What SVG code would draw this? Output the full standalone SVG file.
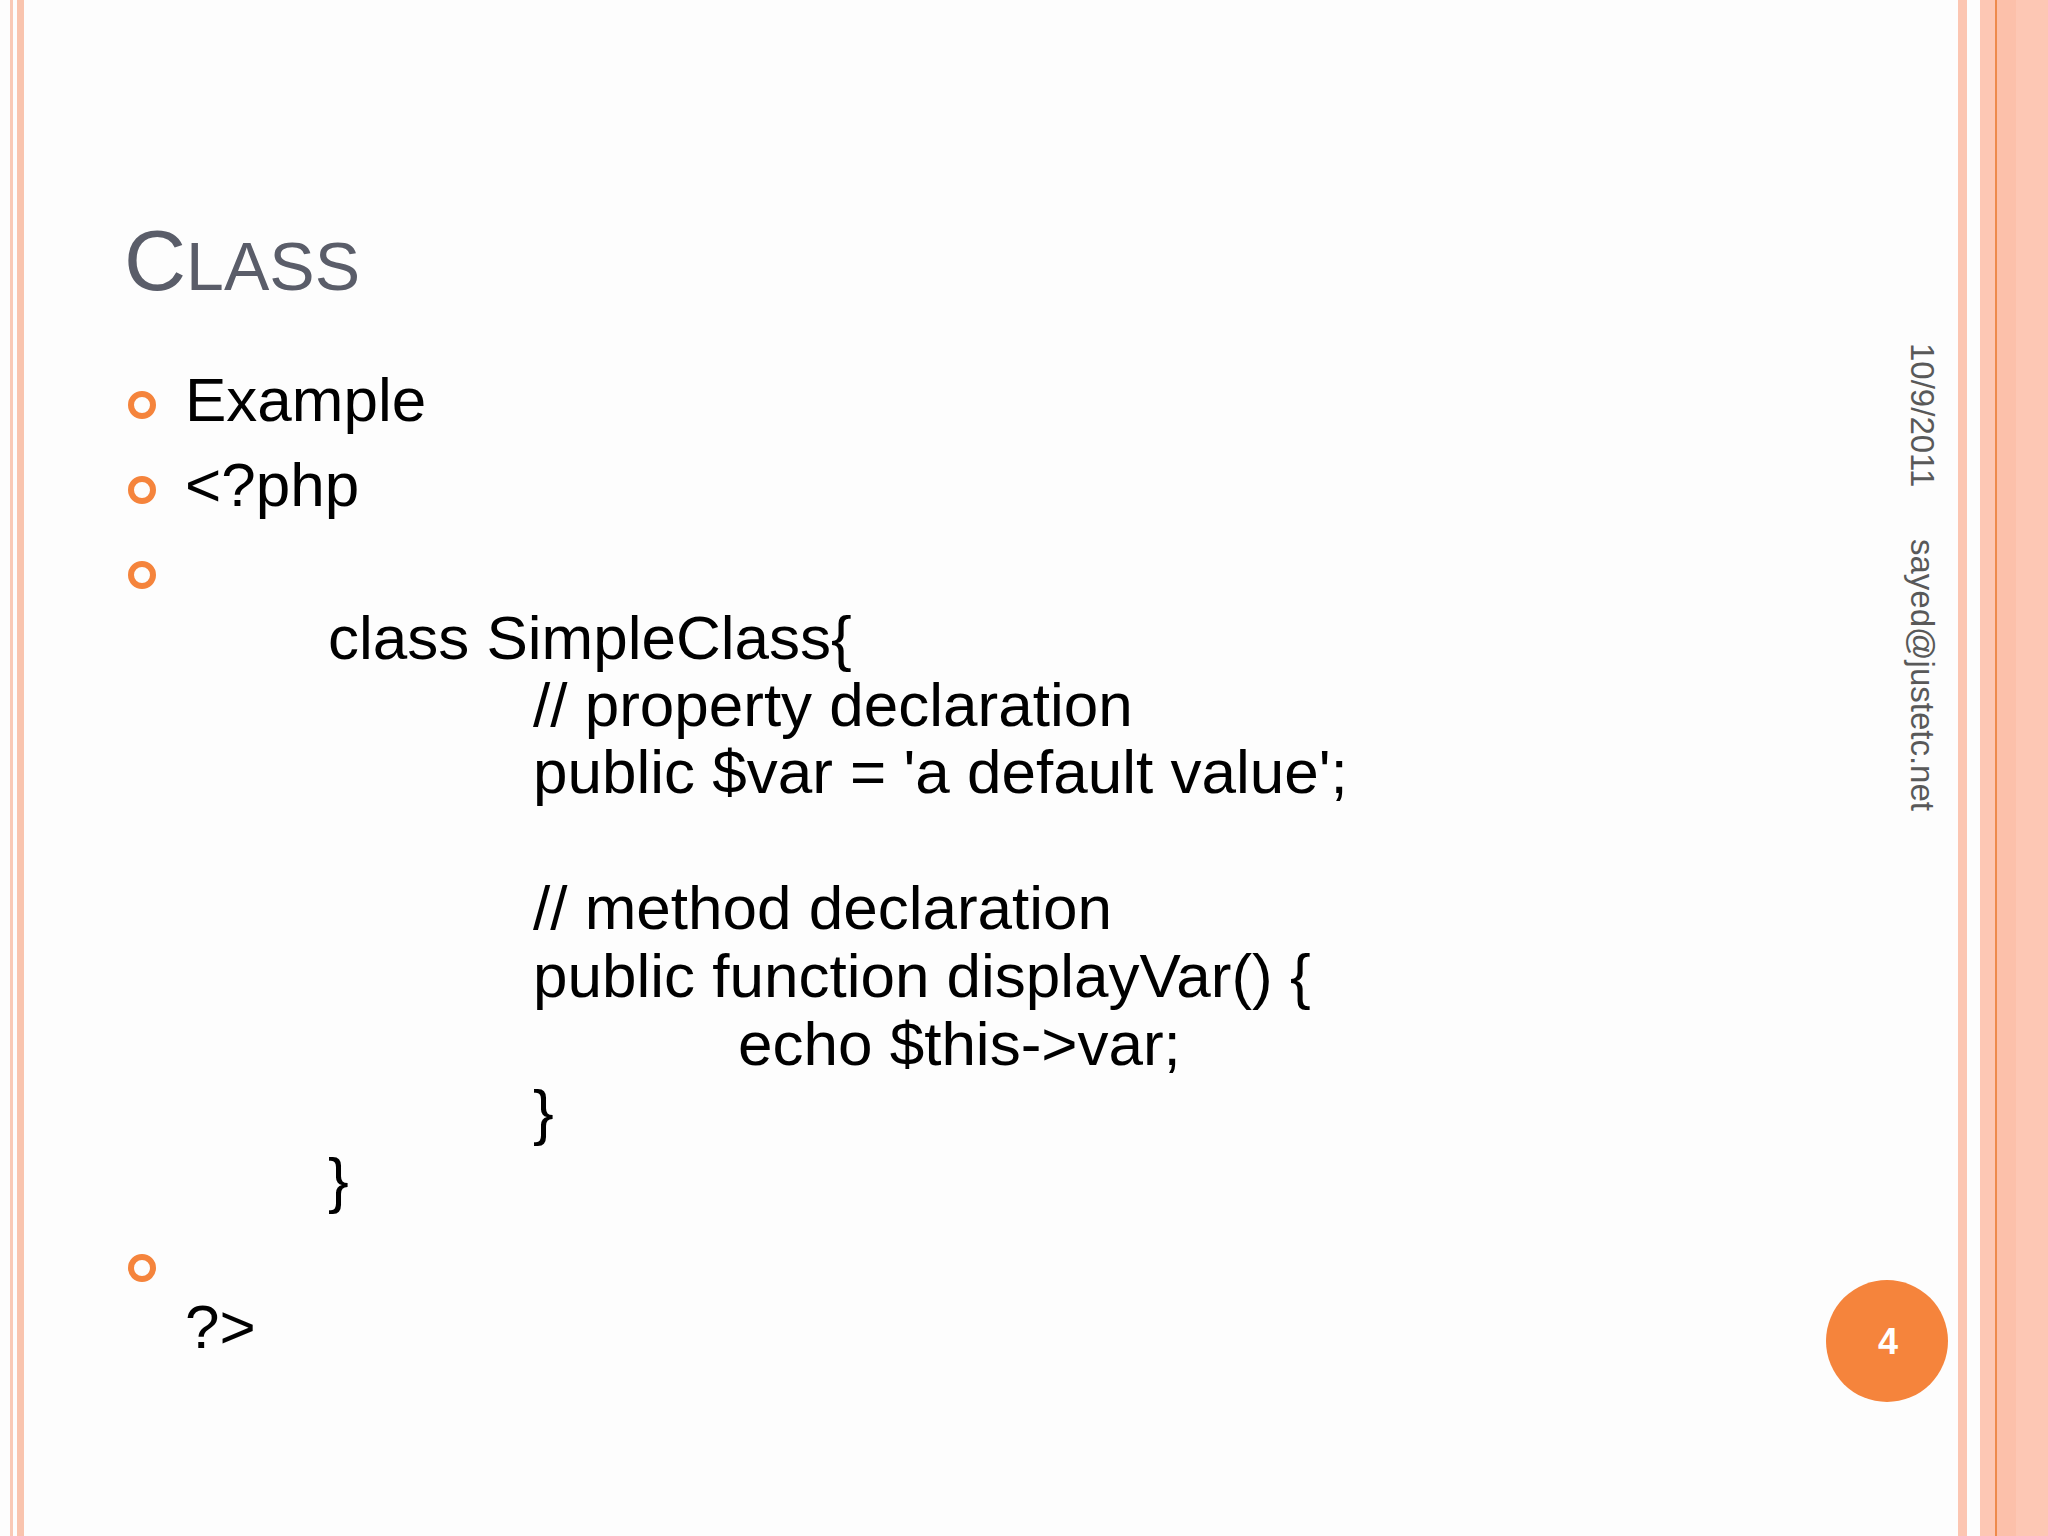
<svg xmlns="http://www.w3.org/2000/svg" width="2048" height="1536" viewBox="0 0 2048 1536">
<style>
.t{font-family:"Liberation Sans",Arial,sans-serif;fill:#000;font-size:62px}
.s{font-family:"Liberation Sans",Arial,sans-serif;fill:#595959;font-size:33px}
.b{fill:none;stroke:#f5843c;stroke-width:6}
</style>
<rect width="2048" height="1536" fill="#fdfdfd"/>
<rect x="10" y="0" width="3" height="1536" fill="#f9c9b6"/>
<rect x="17" y="0" width="7" height="1536" fill="#f9c4ae"/>
<rect x="1958" y="0" width="9" height="1536" fill="#fcc6b2"/>
<rect x="1980" y="0" width="68" height="1536" fill="#fdc7b4"/>
<rect x="1997" y="0" width="19" height="1536" fill="#fcc0aa"/>
<rect x="1995" y="0" width="2" height="1536" fill="#ee8a4c"/>
<g id="title"><text x="124" y="290" font-family="Liberation Sans,Arial,sans-serif" fill="#5a5d69" font-size="86">C<tspan font-size="68">LASS</tspan></text></g>
<g id="bullets">
<circle class="b" cx="142" cy="405" r="11"/>
<circle class="b" cx="142" cy="490" r="11"/>
<circle class="b" cx="142" cy="575" r="11"/>
<circle class="b" cx="142" cy="1268" r="11"/>
</g>
<g id="body">
<text class="t" x="185" y="421">Example</text>
<text class="t" x="185" y="506">&lt;?php</text>
<text class="t" x="328" y="659">class SimpleClass{</text>
<text class="t" x="533" y="726">// property declaration</text>
<text class="t" x="533" y="793">public $var = 'a default value';</text>
<text class="t" x="533" y="929">// method declaration</text>
<text class="t" x="533" y="997">public function displayVar() {</text>
<text class="t" x="738" y="1065">echo $this-&gt;var;</text>
<text class="t" x="533" y="1133">}</text>
<text class="t" x="328" y="1201">}</text>
<text class="t" x="185" y="1348">?&gt;</text>
</g>
<g id="side">
<text class="s" transform="translate(1911,343) rotate(90)">10/9/2011</text>
<text class="s" transform="translate(1911,539) rotate(90)">sayed@justetc.net</text>
</g>
<g id="page">
<circle cx="1887" cy="1341" r="61" fill="#f5843c"/>
<text x="1888" y="1354" text-anchor="middle" font-family="Liberation Sans,Arial,sans-serif" font-weight="bold" font-size="36" fill="#fff">4</text>
</g>
</svg>
